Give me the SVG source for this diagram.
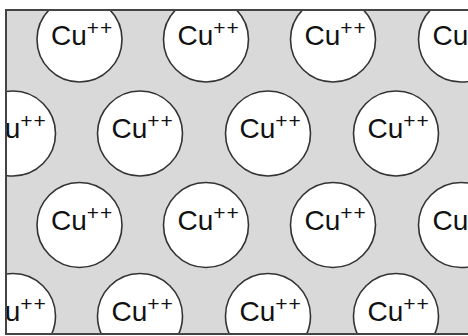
<svg xmlns="http://www.w3.org/2000/svg" width="468" height="336" viewBox="0 0 468 336">
<defs>
<clipPath id="frame"><rect x="6" y="10" width="470" height="324"/></clipPath>
</defs>
<style>
.ion{fill:#fff;stroke:#333;stroke-width:1.6}
.lbl{font-family:"Liberation Sans",Arial,sans-serif;font-size:28px;fill:#111}
.sup{font-size:21px;letter-spacing:1px}
</style>
<rect x="0" y="0" width="468" height="336" fill="#fff"/>
<rect x="6" y="10" width="470" height="324" fill="#d9d9d9"/>
<g clip-path="url(#frame)">
<g id="ion-a1"><circle class="ion" cx="79.5" cy="39.5" r="42.5"/><text class="lbl" x="51" y="45">Cu<tspan class="sup" dy="-10.5">++</tspan></text></g>
<g id="ion-a2"><circle class="ion" cx="206" cy="39.5" r="42.5"/><text class="lbl" x="177.5" y="45">Cu<tspan class="sup" dy="-10.5">++</tspan></text></g>
<g id="ion-a3"><circle class="ion" cx="333" cy="39.5" r="42.5"/><text class="lbl" x="304.5" y="45">Cu<tspan class="sup" dy="-10.5">++</tspan></text></g>
<g id="ion-a4"><circle class="ion" cx="461" cy="39.5" r="42.5"/><text class="lbl" x="432.5" y="45">Cu<tspan class="sup" dy="-10.5">++</tspan></text></g>
<g id="ion-b1"><circle class="ion" cx="13" cy="133.5" r="42.5"/><text class="lbl" x="-15.5" y="138">Cu<tspan class="sup" dy="-10.5">++</tspan></text></g>
<g id="ion-b2"><circle class="ion" cx="140" cy="133.5" r="42.5"/><text class="lbl" x="111.5" y="138">Cu<tspan class="sup" dy="-10.5">++</tspan></text></g>
<g id="ion-b3"><circle class="ion" cx="268" cy="133.5" r="42.5"/><text class="lbl" x="239.5" y="138">Cu<tspan class="sup" dy="-10.5">++</tspan></text></g>
<g id="ion-b4"><circle class="ion" cx="396" cy="133.5" r="42.5"/><text class="lbl" x="367.5" y="138">Cu<tspan class="sup" dy="-10.5">++</tspan></text></g>
<g id="ion-c1"><circle class="ion" cx="79.5" cy="225" r="42.5"/><text class="lbl" x="51" y="230">Cu<tspan class="sup" dy="-10.5">++</tspan></text></g>
<g id="ion-c2"><circle class="ion" cx="206" cy="225" r="42.5"/><text class="lbl" x="177.5" y="230">Cu<tspan class="sup" dy="-10.5">++</tspan></text></g>
<g id="ion-c3"><circle class="ion" cx="333" cy="225" r="42.5"/><text class="lbl" x="304.5" y="230">Cu<tspan class="sup" dy="-10.5">++</tspan></text></g>
<g id="ion-c4"><circle class="ion" cx="461" cy="225" r="42.5"/><text class="lbl" x="432.5" y="230">Cu<tspan class="sup" dy="-10.5">++</tspan></text></g>
<g id="ion-d1"><circle class="ion" cx="13" cy="316" r="42.5"/><text class="lbl" x="-15.5" y="321">Cu<tspan class="sup" dy="-10.5">++</tspan></text></g>
<g id="ion-d2"><circle class="ion" cx="140" cy="316" r="42.5"/><text class="lbl" x="111.5" y="321">Cu<tspan class="sup" dy="-10.5">++</tspan></text></g>
<g id="ion-d3"><circle class="ion" cx="268" cy="316" r="42.5"/><text class="lbl" x="239.5" y="321">Cu<tspan class="sup" dy="-10.5">++</tspan></text></g>
<g id="ion-d4"><circle class="ion" cx="396" cy="316" r="42.5"/><text class="lbl" x="367.5" y="321">Cu<tspan class="sup" dy="-10.5">++</tspan></text></g>
</g>
<g id="connectors"></g>
<path d="M470 10 H6 V334 H470" fill="none" stroke="#444" stroke-width="2"/>
</svg>
